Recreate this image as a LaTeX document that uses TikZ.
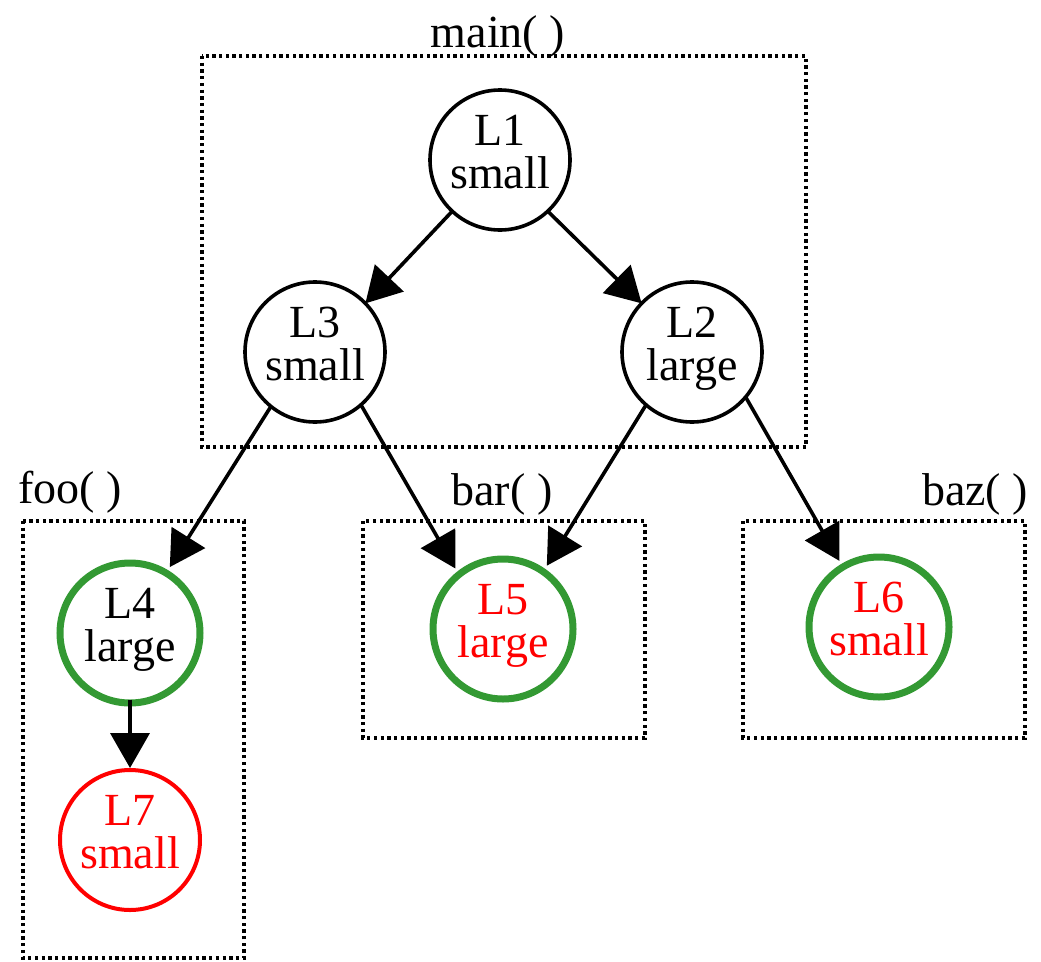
\documentclass[tikz,border=0pt]{standalone}
\usepackage{fontspec}
\setmainfont{Liberation Serif}
\usetikzlibrary{arrows.meta}
\definecolor{fgreen}{RGB}{51,153,51}
\definecolor{fred}{RGB}{255,0,0}
\tikzset{
  state/.style={circle, draw=black, line width=3.6pt, minimum size=140pt,
    inner sep=0pt, outer sep=0pt, align=center,
    font=\fontsize{46}{43}\selectfont, text height=60pt, text depth=4pt},
  greenstate/.style={state, draw=fgreen, line width=7pt},
  redstate/.style={state, draw=fred, line width=4pt, text=fred},
  redtext/.style={text=fred},
  cluster/.style={draw=black, line width=3.5pt, dash pattern=on 3.3pt off 3.4pt},
  clabel/.style={anchor=base, inner sep=0pt, font=\fontsize{46}{43}\selectfont},
  edge/.style={draw=black, line width=3.6pt, -{Triangle[length=35pt,width=39pt]}},
  intogreen/.style={shorten >=7pt},
  intored/.style={shorten >=2pt}
}
\begin{document}
\begin{tikzpicture}[x=1pt, y=-1pt]
  \useasboundingbox (0,0) rectangle (1041,961);

  % function clusters
  \draw[cluster] (202,56) rectangle (806,447);
  \draw[cluster] (23,521) rectangle (244,958);
  \draw[cluster] (363,521) rectangle (645,738);
  \draw[cluster] (743,521) rectangle (1025,738);

  \node[clabel] (lmain) at (498,47) {main( )};
  \node[clabel] (lfoo)  at (70,503) {foo( )};
  \node[clabel] (lbar)  at (502,505) {bar( )};
  \node[clabel] (lbaz)  at (975,505) {baz( )};

  % call-graph nodes
  \node[state] (n1) at (500,160) {L1\\small};
  \node[state] (n3) at (315,352) {L3\\small};
  \node[state] (n2) at (692,352) {L2\\large};
  \node[greenstate] (n4) at (130,633) {L4\\large};
  \node[greenstate, redtext] (n5) at (503,629) {L5\\large};
  \node[greenstate, redtext] (n6) at (879,627) {L6\\small};
  \node[redstate] (n7) at (130,840) {L7\\small};

  % edges
  \draw[edge] (n1.-133) -- (n3.44);
  \draw[edge] (n1.-47) -- (n2.136);
  \draw[edge, intogreen] (n3.-129) -- (n4.59);
  \draw[edge, intogreen] (n3.-49) -- (n5.129);
  \draw[edge, intogreen] (n2.-131) -- (n5.55);
  \draw[edge, intogreen] (n2.-40) -- (n6.121);
  \draw[edge, intored, shorten <=-3pt] (n4.-90) -- (n7.90);
\end{tikzpicture}
\end{document}
